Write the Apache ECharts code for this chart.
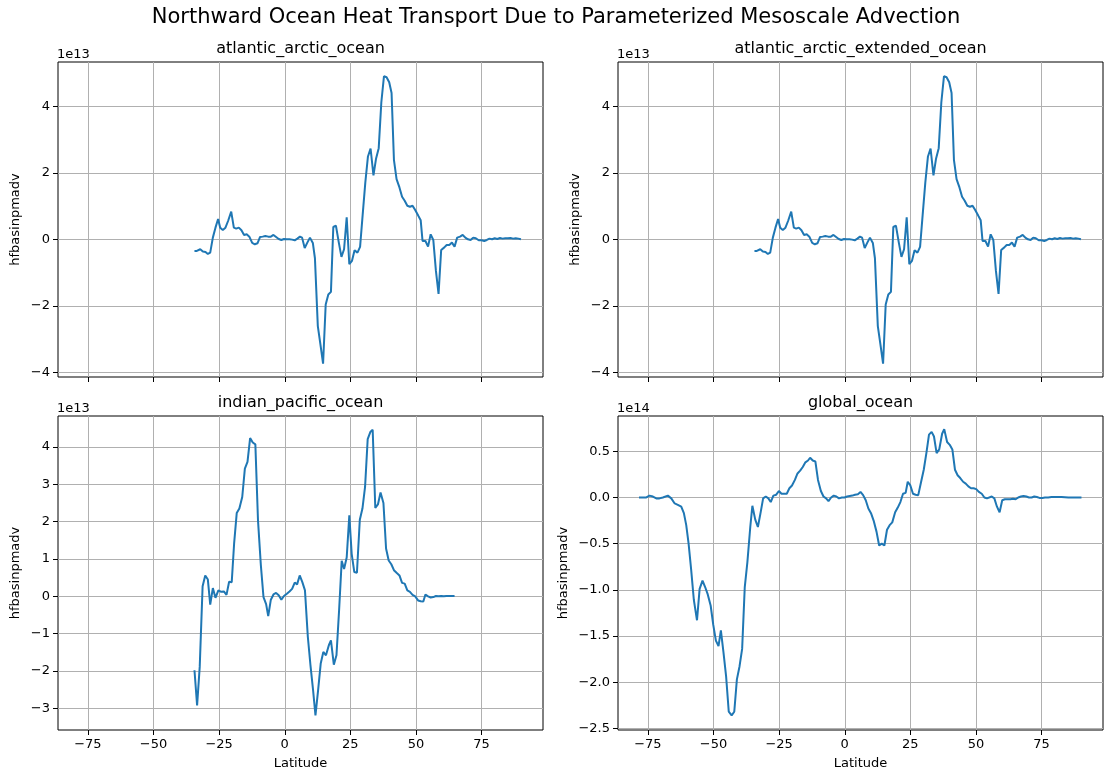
<!DOCTYPE html>
<html>
<head>
<meta charset="utf-8">
<script src="https://cdn.jsdelivr.net/npm/echarts@6/dist/echarts.min.js"></script>
<style>
html,body{margin:0;padding:0;background:#fff;}
#main{width:1112px;height:782px;}
</style>
</head>
<body>
<div id="main"></div>
<script>
// values are in plotted units: atlantic / indian-pacific x1e13, global x1e14
var latTicks = [-75, -50, -25, 0, 25, 50, 75];
var atlTicks = [-4, -2, 0, 2, 4];
var indTicks = [-3, -2, -1, 0, 1, 2, 3, 4];
var gloTicks = [-2.5, -2.0, -1.5, -1.0, -0.5, 0.0, 0.5];

// [latitude, hfbasinpmadv]
var atlanticArctic = [
    [-34.4,-0.35],[-33.5,-0.35],[-32.2,-0.30],[-31.2,-0.37],[-30.2,-0.38],[-29.3,-0.44],[-28.4,-0.40],
    [-27.4,0.05],[-26.4,0.35],[-25.4,0.61],[-24.6,0.35],[-23.6,0.28],[-22.6,0.35],[-21.6,0.55],[-20.4,0.83],
    [-19.4,0.35],[-18.5,0.32],[-17.5,0.35],[-16.5,0.27],[-15.5,0.13],[-14.5,0.15],[-13.5,0.08],[-12.4,-0.11],
    [-11.4,-0.15],[-10.4,-0.12],[-9.4,0.07],[-8.4,0.08],[-7.4,0.10],[-6.3,0.08],[-5.3,0.08],[-4.3,0.13],
    [-3.3,0.07],[-2.3,0.01],[-1.3,-0.02],[-0.3,0.01],[0.8,0.0],[1.8,0.0],[2.8,-0.01],[3.8,-0.03],[4.8,0.02],
    [5.8,0.08],[6.6,0.05],[7.6,-0.26],[8.6,-0.10],[9.6,0.05],[10.7,-0.11],[11.5,-0.57],[12.6,-2.61],
    [13.6,-3.17],[14.6,-3.74],[15.6,-1.96],[16.6,-1.66],[17.6,-1.58],[18.5,0.37],[19.5,0.41],[20.6,-0.10],
    [21.6,-0.53],[22.6,-0.30],[23.6,0.66],[24.6,-0.75],[25.6,-0.65],[26.6,-0.33],[27.7,-0.40],[28.7,-0.23],
    [29.7,0.75],[30.7,1.71],[31.7,2.49],[32.7,2.73],[33.8,1.92],[34.8,2.43],[35.8,2.74],[36.8,4.12],
    [37.8,4.90],[38.8,4.87],[39.8,4.72],[40.7,4.40],[41.6,2.39],[42.6,1.81],[43.7,1.56],[44.7,1.28],
    [45.7,1.16],[46.7,1.01],[47.7,0.98],[48.7,1.01],[49.7,0.88],[50.8,0.72],[51.8,0.57],[52.5,-0.05],
    [53.6,-0.05],[54.6,-0.22],[55.6,0.15],[56.6,-0.02],[57.6,-0.95],[58.6,-1.64],[59.6,-0.32],[60.7,-0.25],
    [61.7,-0.17],[62.7,-0.17],[63.7,-0.10],[64.7,-0.22],[65.7,0.05],[66.8,0.08],[67.8,0.13],[68.8,0.05],
    [69.8,0.0],[70.8,-0.02],[71.8,0.05],[72.8,0.03],[73.9,-0.03],[75,-0.03],[76,-0.05],[77,-0.02],[78,0.02],
    [79,0.0],[80,0.03],[81,0.01],[82,0.04],[83,0.02],[84,0.03],[85,0.03],[86,0.04],[87,0.02],[88,0.03],
    [89,0.02],[90,0.0]
];
var atlanticArcticExtended = atlanticArctic.slice();

var indianPacific = [
    [-34.4,-1.98],[-33.4,-2.92],[-32.4,-1.89],[-31.3,0.27],[-30.3,0.56],[-29.3,0.45],[-28.4,-0.22],
    [-27.4,0.22],[-26.4,-0.04],[-25.3,0.16],[-24.2,0.12],[-23.2,0.13],[-22.2,0.04],[-21.2,0.39],[-20.2,0.38],
    [-19.3,1.41],[-18.3,2.23],[-17.3,2.35],[-16.2,2.66],[-15.2,3.42],[-14.2,3.60],[-13.2,4.24],[-12.2,4.12],
    [-11.2,4.07],[-10.2,2.04],[-9.1,0.83],[-8.1,-0.02],[-7.1,-0.21],[-6.3,-0.53],[-5.3,-0.09],[-4.3,0.05],
    [-3.3,0.09],[-2.3,0.03],[-1.3,-0.09],[-0.3,0.01],[0.8,0.07],[1.8,0.13],[2.8,0.20],[3.8,0.37],[4.7,0.32],
    [5.7,0.56],[6.7,0.38],[7.7,0.16],[8.8,-1.09],[9.8,-1.85],[10.8,-2.52],[11.7,-3.19],[12.7,-2.52],
    [13.7,-1.80],[14.7,-1.49],[15.7,-1.58],[16.8,-1.31],[17.6,-1.18],[18.7,-1.83],[19.7,-1.58],[20.7,-0.38],
    [21.7,0.95],[22.6,0.73],[23.6,1.04],[24.6,2.17],[25.5,1.14],[26.5,0.65],[27.5,0.63],[28.6,2.05],
    [29.6,2.35],[30.6,2.93],[31.6,4.21],[32.6,4.40],[33.5,4.46],[34.5,2.37],[35.5,2.46],[36.5,2.78],
    [37.6,2.50],[38.6,1.28],[39.6,0.96],[40.6,0.86],[41.6,0.70],[42.6,0.63],[43.7,0.56],[44.7,0.36],
    [45.7,0.34],[46.7,0.16],[47.7,0.12],[48.7,0.04],[49.7,0.0],[50.8,-0.11],[51.8,-0.13],[52.8,-0.14],
    [53.6,0.05],[54.6,0.0],[55.6,-0.03],[56.6,-0.02],[57.6,0.01],[58.6,0.0],[59.6,0.01],[60.6,0.0],
    [61.6,0.01],[62.6,0.01],[63.6,0.01],[64.7,0.01]
];

var globalOcean = [
    [-78.4,0.0],[-76.9,0.0],[-75.6,0.0],[-74.4,0.02],[-73.1,0.01],[-71.8,-0.01],[-70.6,-0.01],[-69.3,0.0],
    [-67.4,0.02],[-66.1,-0.01],[-64.8,-0.065],[-63.6,-0.08],[-62.3,-0.10],[-61.3,-0.17],[-60.4,-0.30],
    [-59.5,-0.50],[-58.5,-0.79],[-57.5,-1.11],[-56.3,-1.33],[-55.3,-0.99],[-54.2,-0.90],[-53.2,-0.97],
    [-52.2,-1.05],[-51.1,-1.17],[-50.1,-1.38],[-49.1,-1.55],[-48.1,-1.61],[-47.2,-1.44],[-46.2,-1.68],
    [-45.2,-1.94],[-44.2,-2.32],[-43.1,-2.36],[-42.1,-2.32],[-41.1,-1.97],[-40.1,-1.83],[-39.1,-1.64],
    [-38.1,-0.97],[-37.1,-0.70],[-36.0,-0.32],[-35.2,-0.09],[-34.1,-0.24],[-33.1,-0.32],[-32.1,-0.17],
    [-31.1,-0.01],[-30.1,0.01],[-29.1,-0.01],[-28.2,-0.05],[-27.2,0.02],[-26.1,0.03],[-25.1,0.07],
    [-24.1,0.04],[-23.1,0.04],[-22.1,0.04],[-21.1,0.10],[-20.1,0.13],[-19.0,0.19],[-18.0,0.26],[-17.0,0.29],
    [-16.0,0.33],[-15.0,0.38],[-14.0,0.40],[-13.2,0.43],[-12.2,0.40],[-11.2,0.39],[-10.2,0.19],[-9.1,0.07],
    [-8.1,0.01],[-7.1,-0.01],[-6.2,-0.04],[-5.2,0.0],[-4.2,0.02],[-3.2,0.01],[-2.2,-0.01],[-1.1,0.0],
    [-0.1,0.0],[0.9,0.01],[1.9,0.015],[2.9,0.02],[3.9,0.03],[5.0,0.035],[6.0,0.06],[7.0,0.025],[8.0,-0.03],
    [9.0,-0.12],[10.0,-0.17],[11.0,-0.25],[12.1,-0.37],[13.1,-0.52],[14.1,-0.50],[15.1,-0.52],[16.1,-0.35],
    [17.1,-0.30],[18.1,-0.27],[19.2,-0.16],[20.2,-0.11],[21.2,-0.05],[22.2,0.04],[23.2,0.05],[24.0,0.17],
    [25.0,0.13],[26.0,0.04],[27.0,0.03],[28.0,0.025],[29.1,0.17],[30.1,0.30],[31.1,0.48],[32.1,0.68],
    [33.1,0.71],[34.0,0.66],[35.0,0.48],[36.0,0.52],[37.1,0.69],[37.9,0.74],[39.0,0.60],[40.0,0.57],
    [41.0,0.52],[42.0,0.30],[43.0,0.24],[44.0,0.21],[45.1,0.17],[46.1,0.15],[47.1,0.12],[48.1,0.10],
    [49.1,0.10],[50.1,0.09],[51.1,0.06],[52.2,0.04],[53.2,0.0],[54.2,-0.01],[54.9,-0.03],[56.0,0.01],
    [57.0,-0.01],[58.0,-0.10],[59.0,-0.16],[60.0,-0.03],[61.0,-0.02],[62.1,-0.02],[63.1,-0.02],[64.1,-0.015],
    [65.1,-0.02],[66.1,0.0],[67.1,0.01],[68.1,0.015],[69.2,0.01],[70.2,0.0],[71.2,0.0],[72.2,0.01],
    [73.2,0.005],[74.2,-0.005],[75.3,-0.005],[76.3,0.0],[77.5,0.0],[78.8,0.005],[80.1,0.005],[82.6,0.005],
    [85.2,0.0],[87.7,0.0],[90.2,0.0]
];

var FONT = 'DejaVu Sans';
var LINE = '#1f77b4';

// 小图配置
var panels = [
    {title: 'atlantic_arctic_ocean', data: atlanticArctic, ticks: atlTicks, min: -4.14, max: 5.33, exp: '1e13', dec: 0, left: 58, top: 62, height: 315, bottom: false, gap: 36},
    {title: 'atlantic_arctic_extended_ocean', data: atlanticArcticExtended, ticks: atlTicks, min: -4.14, max: 5.33, exp: '1e13', dec: 0, left: 618, top: 62, height: 315, bottom: false, gap: 36},
    {title: 'indian_pacific_ocean', data: indianPacific, ticks: indTicks, min: -3.58, max: 4.83, exp: '1e13', dec: 0, left: 58, top: 416, height: 314, bottom: true, gap: 36},
    {title: 'global_ocean', data: globalOcean, ticks: gloTicks, min: -2.518, max: 0.882, exp: '1e14', dec: 1, left: 618, top: 416, height: 314, bottom: true, gap: 48}
];

function minus(s) {
    return s.replace('-', '\u2212');
}

var option = {
    backgroundColor: '#fff',
    animation: false,
    grid: [], xAxis: [], yAxis: [], series: [],
    graphic: [{
        type: 'text', left: 'center', top: 7,
        style: {text: 'Northward Ocean Heat Transport Due to Parameterized Mesoscale Advection', font: '21px "DejaVu Sans"', fill: '#000'}
    }]
};

panels.forEach(function (p, i) {
    option.grid.push({
        left: p.left, top: p.top, width: 485, height: p.height,
        show: true, borderColor: '#000', borderWidth: 1, backgroundColor: 'rgba(0,0,0,0)',
        containLabel: false, outerBoundsMode: 'none'
    });
    option.xAxis.push({
        gridIndex: i, type: 'value', min: -86.4, max: 98.4, position: 'bottom',
        axisLine: {show: false, onZero: false},
        axisTick: {show: true, length: 5, lineStyle: {color: '#000', width: 1}, customValues: latTicks},
        axisLabel: {show: p.bottom, customValues: latTicks, margin: 8, color: '#000', fontFamily: FONT, fontSize: 13,
            formatter: function (v) { return minus(String(v)); }},
        splitLine: {show: true, lineStyle: {color: '#b0b0b0', width: 1}},
        name: p.bottom ? 'Latitude' : '', nameLocation: 'middle', nameGap: 27,
        nameTextStyle: {color: '#000', fontFamily: FONT, fontSize: 13}
    });
    option.yAxis.push({
        gridIndex: i, type: 'value', min: p.min, max: p.max, position: 'left',
        axisLine: {show: false, onZero: false},
        axisTick: {show: true, length: 5, lineStyle: {color: '#000', width: 1}, customValues: p.ticks},
        axisLabel: {show: true, customValues: p.ticks, margin: 8, color: '#000', fontFamily: FONT, fontSize: 13,
            formatter: function (v) { return minus(p.dec ? v.toFixed(p.dec) : String(Math.round(v))); }},
        splitLine: {show: true, lineStyle: {color: '#b0b0b0', width: 1}},
        name: 'hfbasinpmadv', nameLocation: 'middle', nameRotate: 90, nameGap: p.gap,
        nameTextStyle: {color: '#000', fontFamily: FONT, fontSize: 13}
    });
    option.series.push({
        type: 'line', xAxisIndex: i, yAxisIndex: i, data: p.data,
        showSymbol: false, symbol: 'none', silent: true,
        lineStyle: {color: LINE, width: 2}
    });
    // 标题
    option.graphic.push({
        type: 'text', x: p.left + 242.5, y: p.top - 13,
        style: {text: p.title, font: '16px "DejaVu Sans"', fill: '#000', textAlign: 'center', textVerticalAlign: 'middle'}
    });
    // 科学计数
    option.graphic.push({
        type: 'text', x: p.left - 1, y: p.top - 7.5,
        style: {text: p.exp, font: '13px "DejaVu Sans"', fill: '#000', textAlign: 'left', textVerticalAlign: 'middle'}
    });
});

var myChart = echarts.init(document.getElementById('main'));
myChart.setOption(option);
</script>
</body>
</html>
